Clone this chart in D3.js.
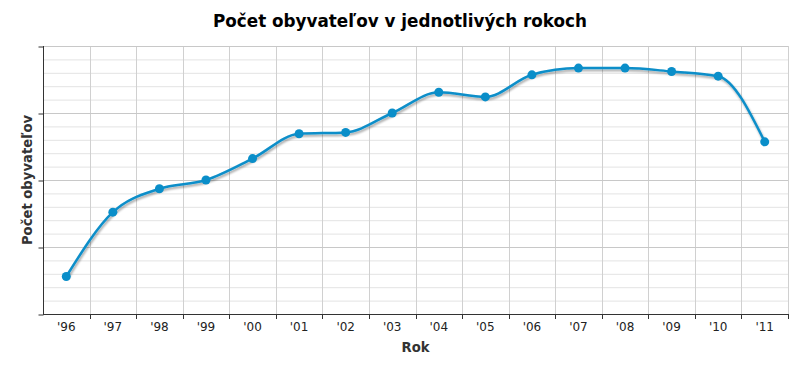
<!DOCTYPE html>
<html><head><meta charset="utf-8">
<script src="https://cdn.jsdelivr.net/npm/d3@7"></script>
<style>body{margin:0;background:#fff;}svg{display:block;}</style>
</head><body>
<svg id="c" width="800" height="376"></svg>
<script>
const title = "Počet obyvateľov v jednotlivých rokoch";
const yTitle = "Počet obyvateľov";
const xTitle = "Rok";
const categories = ["'96","'97","'98","'99","'00","'01","'02","'03","'04","'05","'06","'07","'08","'09","'10","'11"];
const population = [1056,1152,1187,1200,1232,1269,1271,1300,1331,1324,1357,1367,1367,1362,1355,1257];
const yDomain = [1000,1400];
const yMajorTicks = [1000,1100,1200,1300,1400];
const yMinorTicks = d3.range(1000,1401,20);

const svg = d3.select("#c");
const m = {l:43, r:12, t:46, b:62};
const W = 800, H = 376;
const x = d3.scaleBand().domain(categories).range([m.l, W-m.r]);
const y = d3.scaleLinear().domain(yDomain).range([H-m.b, m.t]);

const defs = svg.append("defs");
const f = defs.append("filter").attr("id","sh").attr("x","-5%").attr("y","-20%").attr("width","110%").attr("height","140%");
f.append("feGaussianBlur").attr("in","SourceAlpha").attr("stdDeviation",1.2).attr("result","b");
f.append("feOffset").attr("in","b").attr("dx",1).attr("dy",1.5).attr("result","o");
f.append("feComponentTransfer").attr("in","o").attr("result","o2").append("feFuncA").attr("type","linear").attr("slope",0.35);
const fm = f.append("feMerge"); fm.append("feMergeNode").attr("in","o2"); fm.append("feMergeNode").attr("in","SourceGraphic");

// minor grid
svg.append("g").selectAll("line").data(yMinorTicks.filter(v=>!yMajorTicks.includes(v))).join("line")
  .attr("x1",m.l).attr("x2",W-m.r).attr("y1",d=>y(d)+0.5).attr("y2",d=>y(d)+0.5)
  .attr("stroke","#e3e3e3").attr("stroke-width",1);
// vertical grid
const bounds = categories.map(c=>x(c)).concat([x.range()[1]]);
svg.append("g").selectAll("line").data(bounds.slice(1)).join("line")
  .attr("x1",d=>Math.round(d)+0.5).attr("x2",d=>Math.round(d)+0.5).attr("y1",m.t).attr("y2",H-m.b)
  .attr("stroke","#d0d0d0").attr("stroke-width",1);
// major grid
svg.append("g").selectAll("line").data(yMajorTicks).join("line")
  .attr("x1",m.l).attr("x2",W-m.r).attr("y1",d=>Math.round(y(d))+0.5).attr("y2",d=>Math.round(y(d))+0.5)
  .attr("stroke","#c8c8c8").attr("stroke-width",1);

// y axis
const ya = svg.append("g").attr("transform",`translate(${m.l},0)`)
  .call(d3.axisLeft(y).tickValues(yMajorTicks).tickFormat("").tickSizeOuter(0).tickSize(5));
ya.select(".domain").attr("stroke","#333").attr("d",`M0.5,${m.t}V${H-m.b}`);
ya.selectAll(".tick line").attr("stroke","#333").attr("transform","translate(0.5,0.5)");

// x axis
const xa = svg.append("g").attr("transform",`translate(0,${H-m.b})`)
  .call(d3.axisBottom(x).tickSize(0).tickSizeOuter(0));
xa.select(".domain").attr("stroke","#333").attr("d",`M${m.l},0.5H${W-m.r}`);
xa.selectAll(".tick text").attr("font-family","DejaVu Sans").attr("font-size",12).attr("fill","#222").attr("dy","1.15em");
svg.append("g").selectAll("line").data(bounds.slice(1)).join("line")
  .attr("x1",d=>Math.round(d)+0.5).attr("x2",d=>Math.round(d)+0.5).attr("y1",H-m.b).attr("y2",H-m.b+5)
  .attr("stroke","#333");

// line
const line = d3.line().x((d,i)=>x(categories[i])+x.bandwidth()/2).y(d=>y(d)).curve(d3.curveMonotoneX);
const g = svg.append("g").attr("filter","url(#sh)");
g.append("path").datum(population).attr("d",line).attr("fill","none").attr("stroke","#0a8ec9").attr("stroke-width",2.5);
svg.append("g").selectAll("circle").data(population).join("circle")
  .attr("cx",(d,i)=>x(categories[i])+x.bandwidth()/2).attr("cy",d=>y(d)).attr("r",4.5).attr("fill","#0a8ec9");

// titles
svg.append("text").attr("x",400).attr("y",27).attr("text-anchor","middle")
  .attr("font-family","DejaVu Sans").attr("font-weight","bold").attr("font-size",16.8).attr("fill","#000").text(title);
svg.append("text").attr("transform",`translate(32,${(m.t+H-m.b)/2}) rotate(-90)`).attr("text-anchor","middle")
  .attr("font-family","DejaVu Sans").attr("font-weight","bold").attr("font-size",13.2).attr("fill","#333").text(yTitle);
svg.append("text").attr("x",(m.l+W-m.r)/2).attr("y",352).attr("text-anchor","middle")
  .attr("font-family","DejaVu Sans").attr("font-weight","bold").attr("font-size",13.2).attr("fill","#333").text(xTitle);
</script>
</body></html>
